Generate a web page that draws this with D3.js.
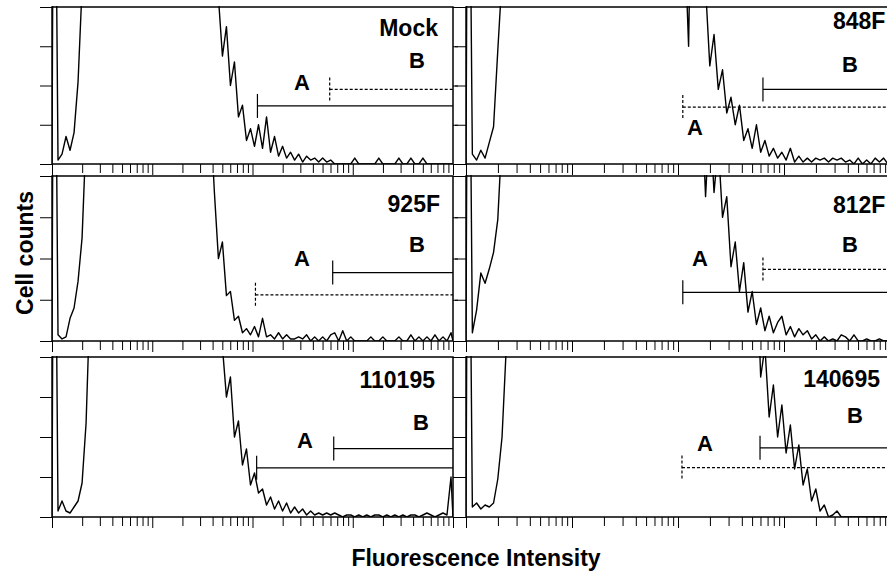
<!DOCTYPE html>
<html>
<head>
<meta charset="utf-8">
<script src="https://cdn.jsdelivr.net/npm/d3@7"></script>
<style>
  body { margin: 0; background: #fff; }
  svg { display: block; font-family: "Liberation Sans", Arial, sans-serif; font-weight: bold; }
</style>
</head>
<body>
<svg id="chart" width="887" height="571"></svg>
<script>
// Sample names, row by row (left panel, then right panel)
const sampleNames = ['Mock', '848F', '925F', '812F', '110195', '140695'];

// Cell counts in 100 log-spaced bins from 10^0 to 10^4 (0.04 decade each).
// Values above 80 are off scale in the original (peak is clipped).
const countsMock = [250, 2, 5, 14, 7, 16, 42, 90,
  140, 210, 290, 360, 410, 440, 450, 445, 430, 410, 390, 370, 350, 335, 320, 310, 300, 295, 290, 290, 295, 300, 310, 320, 330, 335, 330, 320, 300, 270, 230, 180, 130,
  85, 55, 70, 40, 52, 24, 30, 12, 18, 9, 20, 8, 24, 6, 14, 4, 9, 3, 6, 2, 5, 1, 4, 2, 3, 1, 3, 1, 2,
  0, 0, 0, 0, 0, 3, 0, 0, 0, 0, 0, 3, 0, 0, 0, 0, 3, 0, 0, 3, 0, 0, 3, 0, 0, 0, 0, 0, 0, 0];
const counts848F = [250, 5, 2, 7, 3, 11, 19, 58, 95,
  150, 230, 320, 400, 470, 520, 550, 560, 555, 540, 520, 500, 480, 460, 440, 420, 400, 385, 370, 360, 350, 345, 340, 340, 345, 350, 360, 370, 380, 390, 400, 405, 400, 390, 370, 350, 320, 290, 250, 210, 170, 140, 120,
  60, 200, 160, 130, 90,
  50, 66, 38, 48, 26, 34, 20, 30, 12, 18, 8, 20, 6, 12, 4, 8, 3, 6, 2, 8,
  1, 4, 1, 3, 1, 3, 2, 3, 1, 3, 2, 3, 1, 2, 0, 3, 0, 2, 0, 3, 1, 3, 0];
const counts925F = [250, 3, 1, 2, 11, 16, 29, 50, 100,
  160, 240, 320, 390, 440, 470, 480, 470, 450, 420, 390, 360, 340, 320, 305, 295, 290, 290, 295, 300, 305, 300, 290, 270, 250, 230, 210, 190, 170, 140, 110,
  72, 40, 48, 22, 24, 10, 12, 4, 6, 3, 7, 2, 11, 2, 3, 1, 4, 1, 3, 1,
  1, 2, 1, 3, 0, 2, 0, 2, 0, 3, 4, 0, 5, 0, 2, 0, 0, 0, 0, 2,
  0, 0, 2, 0, 0, 0, 2, 0, 0, 3, 0, 2, 0, 2, 0, 3, 0, 2, 0, 4];
const counts812F = [250, 4, 15, 33, 28, 35, 43, 59, 100,
  150, 220, 300, 370, 430, 480, 510, 530, 535, 530, 515, 495, 470, 445, 420, 400, 380, 365, 350, 340, 330, 325, 320, 320, 325, 330, 340, 350, 365, 380, 395, 410, 420, 425, 420, 410, 390, 360, 330, 290, 250, 210, 175, 150, 130, 110,
  120, 70, 110, 72, 95, 60, 70, 36, 48, 24, 38, 14, 24, 8, 16, 5, 12, 4, 9, 12,
  3, 7, 2, 6, 3, 5, 1, 3, 0, 2, 0, 1, 0, 3, 2, 0, 3, 0, 0, 1, 0, 0, 1, 0, 0];
const counts110195 = [250, 3, 8, 3, 2, 5, 8, 17, 47, 110,
  180, 260, 340, 410, 460, 490, 500, 495, 480, 455, 430, 400, 375, 350, 330, 315, 305, 300, 300, 305, 310, 320, 330, 335, 335, 330, 320, 300, 270, 230, 180, 130,
  85, 60, 70, 40, 48, 26, 34, 16, 22, 12, 14, 6, 10, 4, 8, 3, 7, 2, 5, 2,
  4, 1, 3, 1, 2, 1, 2, 1, 2, 1, 0, 1, 1, 0, 1, 0, 1, 0, 1, 1,
  0, 1, 0, 1, 0, 1, 0, 1, 1, 0, 1, 2, 1, 0, 1, 2, 1, 20];
const counts140695 = [250, 5, 7, 4, 6, 5, 7, 19, 40, 85,
  140, 200, 270, 340, 400, 450, 490, 520, 540, 550, 550, 540, 525, 505, 485, 465, 445, 425, 405, 390, 375, 360, 350, 340, 330, 325, 320, 318, 318, 320, 325, 330, 340, 350, 360, 375, 390, 405, 420, 435, 445, 450, 450, 445, 435, 420, 400, 375, 345, 310, 275, 240, 205, 175, 150, 130, 115, 100,
  130, 70, 85, 50, 66, 40, 56, 32, 46, 24, 36, 16, 24, 8, 14, 3, 6, 0, 1, 3,
  0, 0, 0, 0, 0, 0, 0, 0, 0, 0, 0, 0];

// Gates: start intensity and height (cell counts) of markers A and B
const gateAStart = [112, 111, 107, 111, 110, 109];
const gateALevel = [29.6, 29, 22.4, 23.6, 24.6, 24.7];
const gateBStart = [589, 633, 631, 633, 646, 594];
const gateBLevel = [38, 38, 33.2, 34.7, 34.2, 34.6];

const yTicks = [0, 20, 40, 60, 80];
const yMax = 80;

// Layout
const colX = [[52, 453], [466, 890]];
const rowY = [[7, 164], [176, 341], [357, 517]];
const gateDash = [['', '3,2'], ['3,2', ''], ['3,2', ''], ['', '3,2'], ['', ''], ['3,2', '']];
const labelA = [[250, 83], [229, 128], [250, 90], [234, 90], [253, 91], [239, 94]];
const labelB = [[365, 61], [384, 65], [365, 76], [384, 76], [369, 73], [389, 66]];
const nameAt = [[386, 29, 'end'], [367, 22, 'start'], [388, 36, 'end'], [367, 37, 'start'], [383, 31, 'end'], [414, 30, 'end']];

const svg = d3.select('#chart');
const nBins = countsMock.length;
const binCenters = d3.range(nBins).map(i => Math.pow(10, (i + 0.5) * 4 / nBins));
const panelCounts = [countsMock, counts848F, counts925F, counts812F, counts110195, counts140695];

panelCounts.forEach((counts, k) => {
  const col = k % 2, row = Math.floor(k / 2);
  const [x0, x1] = colX[col];
  const [y0, y1] = rowY[row];
  const x = d3.scaleLog().domain([1, 1e4]).range([x0, x1]);
  const y = d3.scaleLinear().domain([0, yMax]).range([y1, y0]);
  const g = svg.append('g');

  // Clip the histogram to the plot box (peak runs off scale)
  const clipId = 'clip' + k;
  svg.append('clipPath').attr('id', clipId)
    .append('rect').attr('x', x0).attr('y', y0 - 1).attr('width', x1 - x0).attr('height', y1 - y0 + 1);

  const pts = [[1, 0]].concat(counts.map((c, i) => [binCenters[i], c]), [[1e4, 0]]);
  g.append('path').datum(pts)
    .attr('clip-path', `url(#${clipId})`)
    .attr('fill', 'none').attr('stroke', '#000').attr('stroke-width', 1.4)
    .attr('stroke-linejoin', 'round')
    .attr('d', d3.line().x(d => x(d[0])).y(d => y(d[1])));

  // Gates A and B
  [[gateAStart[k], gateALevel[k], gateDash[k][0]], [gateBStart[k], gateBLevel[k], gateDash[k][1]]]
    .forEach(([start, level, dash]) => {
      const gy = y(level);
      g.append('line').attr('x1', x(start)).attr('x2', x1).attr('y1', gy).attr('y2', gy)
        .attr('stroke', '#000').attr('stroke-width', 1.2).attr('stroke-dasharray', dash || null);
      g.append('line').attr('x1', x(start)).attr('x2', x(start)).attr('y1', gy - 12).attr('y2', gy + 12)
        .attr('stroke', '#000').attr('stroke-width', 1.2).attr('stroke-dasharray', dash || null);
    });

  // Log x ticks under each panel
  const xAxis = g.append('g').attr('transform', `translate(0,${y1})`)
    .call(d3.axisBottom(x).tickValues(x.ticks()).tickSize(9).tickFormat(''));
  xAxis.select('.domain').remove();
  xAxis.selectAll('.tick line')
    .filter(d => Math.abs(Math.log10(d) - Math.round(Math.log10(d))) < 1e-9)
    .attr('y2', 11);

  // Count ticks
  const yAxis = g.append('g').attr('transform', `translate(${x0},0)`)
    .call(d3.axisLeft(y).tickValues(yTicks).tickSize(col === 0 ? 12 : 11).tickFormat(''));
  yAxis.select('.domain').remove();
  if (col === 0) {
    const yAxisR = g.append('g').attr('transform', `translate(${x1},0)`)
      .call(d3.axisRight(y).tickValues(yTicks).tickSize(5).tickFormat(''));
    yAxisR.select('.domain').remove();
  }
  g.selectAll('.tick line').attr('stroke-width', 1);

  // Plot box
  g.append('rect').attr('x', x0).attr('y', y0).attr('width', x1 - x0).attr('height', y1 - y0)
    .attr('fill', 'none').attr('stroke', '#000').attr('stroke-width', 1.5);

  // Labels
  g.append('text').attr('x', x0 + labelA[k][0]).attr('y', y0 + labelA[k][1])
    .attr('text-anchor', 'middle').attr('font-size', 22).text('A');
  g.append('text').attr('x', x0 + labelB[k][0]).attr('y', y0 + labelB[k][1])
    .attr('text-anchor', 'middle').attr('font-size', 22).text('B');
  g.append('text').attr('x', x0 + nameAt[k][0]).attr('y', y0 + nameAt[k][1])
    .attr('text-anchor', nameAt[k][2]).attr('font-size', 23).text(sampleNames[k]);
});

// Axis titles
svg.append('text').attr('transform', 'translate(33,253) rotate(-90)')
  .attr('text-anchor', 'middle').attr('font-size', 23).text('Cell counts');
svg.append('text').attr('x', 476).attr('y', 566)
  .attr('text-anchor', 'middle').attr('font-size', 23).text('Fluorescence Intensity');
</script>
</body>
</html>
